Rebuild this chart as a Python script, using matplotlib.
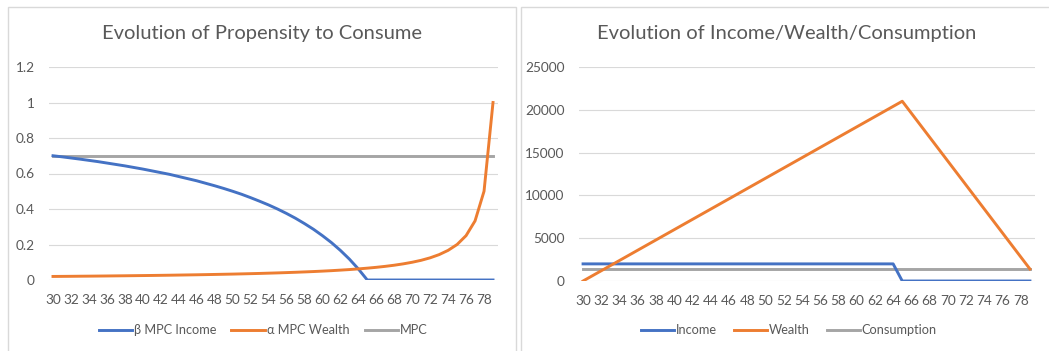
import matplotlib.pyplot as plt
from matplotlib.patches import Rectangle

plt.rcParams['font.family'] = ['Lato', 'DejaVu Sans']

# ages 30..79
ages = list(range(30, 80))

# propensities to consume
beta_income = [0.7, 0.694, 0.6875, 0.681, 0.674, 0.667, 0.659, 0.651, 0.643, 0.634,
               0.625, 0.615, 0.605, 0.595, 0.583, 0.571, 0.559, 0.545, 0.531, 0.516,
               0.5, 0.483, 0.464, 0.444, 0.423, 0.4, 0.375, 0.348, 0.318, 0.286,
               0.25, 0.211, 0.167, 0.118, 0.0625, 0, 0, 0, 0, 0,
               0, 0, 0, 0, 0, 0, 0, 0, 0, 0]
alpha_wealth = [0.02, 0.0204, 0.0208, 0.0213, 0.0217, 0.0222, 0.0227, 0.0233, 0.0238, 0.0244,
                0.025, 0.0256, 0.0263, 0.027, 0.0278, 0.0286, 0.0294, 0.0303, 0.0313, 0.0323,
                0.0333, 0.0345, 0.0357, 0.037, 0.0385, 0.04, 0.0417, 0.0435, 0.0455, 0.0476,
                0.05, 0.0526, 0.0556, 0.0588, 0.0625, 0.0667, 0.0714, 0.0769, 0.0833, 0.0909,
                0.1, 0.111, 0.125, 0.143, 0.167, 0.2, 0.25, 0.333, 0.5, 1.0]
mpc = [0.7] * 50

# income / wealth / consumption
income = [2000] * 35 + [0] * 15
wealth = [0, 600, 1200, 1800, 2400, 3000, 3600, 4200, 4800, 5400,
          6000, 6600, 7200, 7800, 8400, 9000, 9600, 10200, 10800, 11400,
          12000, 12600, 13200, 13800, 14400, 15000, 15600, 16200, 16800, 17400,
          18000, 18600, 19200, 19800, 20400, 21000, 19600, 18200, 16800, 15400,
          14000, 12600, 11200, 9800, 8400, 7000, 5600, 4200, 2800, 1400]
consumption = [1400] * 50

BLUE = '#4472C4'
ORANGE = '#ED7D31'
GRAY = '#A5A5A5'
TEXT = '#595959'
GRID = '#D9D9D9'

W, H = 1049, 351
fig = plt.figure(figsize=(W / 100, H / 100), dpi=100)
fig.patch.set_facecolor('white')

# chart frames
for x0, x1 in [(8, 516), (521, 1060)]:
    fig.patches.append(Rectangle((x0 / W, -0.05), (x1 - x0) / W, 1.05 - 7 / H,
                                 transform=fig.transFigure, fill=False,
                                 edgecolor=GRID, linewidth=1.0))


def style_axes(ax, ymax, ystep, fmt):
    ax.set_xlim(-0.5, len(ages) - 0.5)
    ax.set_ylim(0, ymax)
    n = int(round(ymax / ystep)) + 1
    ax.set_yticks([i * ystep for i in range(n)])
    ax.set_yticklabels([fmt(i * ystep) for i in range(n)])
    ax.set_xticks(range(0, len(ages), 2))
    ax.set_xticklabels([str(a) for a in ages[::2]])
    ax.grid(axis='y', color=GRID, linewidth=0.8)
    ax.set_axisbelow(True)
    for s in ax.spines.values():
        s.set_visible(False)
    ax.tick_params(length=0, labelsize=9.8, colors=TEXT, pad=10)
    ax.tick_params(axis='y', pad=10)


def add_legend(ax, cx, spacing):
    ax.legend(loc='center', bbox_to_anchor=(cx / W, (H - 330) / H),
              bbox_transform=fig.transFigure, ncol=3, frameon=False,
              fontsize=9.2, labelcolor=TEXT, handlelength=2.6,
              handletextpad=0.15, columnspacing=spacing)


x = range(len(ages))

# left chart
ax1 = fig.add_axes([48.5 / W, (H - 280) / H, 449 / W, 213 / H])
ax1.plot(x, beta_income, color=BLUE, lw=2.1, label='β MPC Income', zorder=3)
ax1.plot(x, alpha_wealth, color=ORANGE, lw=2.1, label='α MPC Wealth', zorder=4)
ax1.plot(x, mpc, color=GRAY, lw=2.1, label='MPC', zorder=2)
style_axes(ax1, 1.2, 0.2, lambda v: '%g' % round(v, 1))
fig.text(262 / W, (H - 33) / H, 'Evolution of Propensity to Consume',
         ha='center', va='center', fontsize=14.5, color=TEXT)
add_legend(ax1, 263, 1.2)

# right chart
ax2 = fig.add_axes([578.5 / W, (H - 281) / H, 456 / W, 214 / H])
ax2.plot(x, income, color=BLUE, lw=2.1, label='Income', zorder=3)
ax2.plot(x, wealth, color=ORANGE, lw=2.1, label='Wealth', zorder=4)
ax2.plot(x, consumption, color=GRAY, lw=2.1, label='Consumption', zorder=2)
style_axes(ax2, 25000, 5000, lambda v: '%d' % v)
fig.text(787 / W, (H - 33) / H, 'Evolution of Income/Wealth/Consumption',
         ha='center', va='center', fontsize=14.5, color=TEXT)
add_legend(ax2, 789, 1.3)

fig.savefig('out.png', dpi=100)
